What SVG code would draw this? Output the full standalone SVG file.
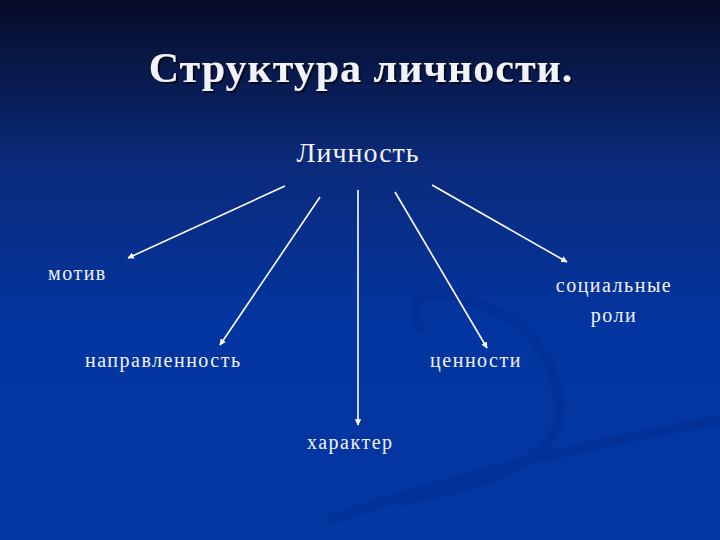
<svg xmlns="http://www.w3.org/2000/svg" width="720" height="540" viewBox="0 0 720 540">
<defs>
<linearGradient id="bg" x1="0" y1="0" x2="0" y2="1">
<stop offset="0" stop-color="#060c26"/>
<stop offset="0.3" stop-color="#0b2a7a"/>
<stop offset="0.6" stop-color="#0335a0"/>
<stop offset="1" stop-color="#0337a2"/>
</linearGradient>
<filter id="sh"><feDropShadow dx="2" dy="2" stdDeviation="0.5" flood-color="#000" flood-opacity="0.6"/></filter>
<marker id="ar" viewBox="0 0 10 10" refX="9" refY="5" markerWidth="4" markerHeight="4" orient="auto"><path d="M0,0L10,5L0,10z" fill="#fff"/></marker>
<style>
text{font-family:"Liberation Serif","DejaVu Serif",serif;fill:#f2f2f8}
.n{font-size:20px;letter-spacing:1.5px}
.c line{stroke:#fff;stroke-width:1.6;marker-end:url(#ar)}
</style>
</defs>
<rect width="720" height="540" fill="url(#bg)"/>
<g fill="none" stroke="#022a88" stroke-width="10" stroke-linecap="round" opacity="0.3">
<path d="M420,330 Q400,280 470,300 Q560,330 560,420 Q540,480 400,500"/>
<path d="M330,520 Q500,460 720,420"/>
</g>
<g id="title"><text x="361" y="82" text-anchor="middle" font-size="42" font-weight="bold" letter-spacing="1" filter="url(#sh)">Структура личности.</text></g>
<g id="root"><text x="358" y="162" text-anchor="middle" font-size="28" letter-spacing="1">Личность</text></g>
<g class="c" id="connectors">
<line x1="285" y1="186" x2="128" y2="258"/>
<line x1="320" y1="197" x2="220" y2="345"/>
<line x1="358" y1="190" x2="358" y2="425"/>
<line x1="395" y1="192" x2="487" y2="348"/>
<line x1="432" y1="185" x2="567" y2="262"/>
</g>
<g id="motiv"><text class="n" x="48" y="280">мотив</text></g>
<g id="roles"><text class="n" x="614" y="292" text-anchor="middle">социальные</text><text class="n" x="614" y="322" text-anchor="middle">роли</text></g>
<g id="napr"><text class="n" x="85" y="367">направленность</text></g>
<g id="cenn"><text class="n" x="476" y="367" text-anchor="middle">ценности</text></g>
<g id="har"><text class="n" x="307" y="449">характер</text></g>
</svg>
